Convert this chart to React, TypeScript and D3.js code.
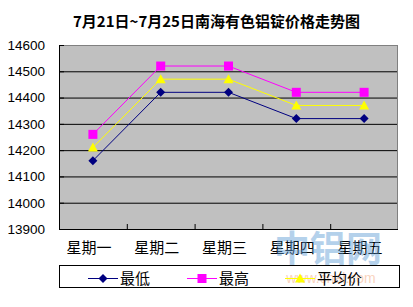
import React from "react";
import * as d3 from "d3";

const title = "7月21日~7月25日南海有色铝锭价格走势图";
const categories = ["星期一", "星期二", "星期三", "星期四", "星期五"];
const lowValues = [14160, 14420, 14420, 14320, 14320];
const highValues = [14260, 14520, 14520, 14420, 14420];
const avgValues = [14210, 14470, 14470, 14370, 14370];
const yTicks = [13900, 14000, 14100, 14200, 14300, 14400, 14500, 14600];
const seriesNames = ["最低", "最高", "平均价"];

const W = 413, H = 307;
const left = 59, right = 398, top = 45, bottom = 229;
const cjk = "'Noto Sans CJK SC', 'Noto Sans', sans-serif";
const num = "'Liberation Sans', Arial, sans-serif";

function Marker({ kind, x, y }: { kind: string; x: number; y: number }) {
  if (kind === "diamond") {
    const s = 4.5;
    return <path d={`M${x},${y - s}L${x + s},${y}L${x},${y + s}L${x - s},${y}Z`} fill="#000080" />;
  }
  if (kind === "square") {
    return <rect x={x - 4.5} y={y - 4.5} width={9} height={9} fill="#FF00FF" />;
  }
  return <path d={`M${x},${y - 5}L${x + 5},${y + 4}L${x - 5},${y + 4}Z`} fill="#FFFF00" />;
}

export default function App() {
  const x = d3.scaleBand<string>().domain(categories).range([left, right]);
  const y = d3.scaleLinear().domain([13900, 14600]).range([bottom, top]);
  const cx = (c: string) => (x(c) as number) + x.bandwidth() / 2;
  const line = d3
    .line<number>()
    .x((_, i) => cx(categories[i]))
    .y((v) => y(v));

  const series = [
    { name: seriesNames[0], values: lowValues, color: "#000080", kind: "diamond" },
    { name: seriesNames[1], values: highValues, color: "#FF00FF", kind: "square" },
    { name: seriesNames[2], values: avgValues, color: "#FFFF00", kind: "triangle" },
  ];
  const legendX = [88, 187, 285];

  return (
    <svg width={W} height={H} style={{ position: "absolute", left: 0, top: 0, background: "#fff" }}>
      <text x={216.5} y={26.5} textAnchor="middle" fontFamily={cjk} fontWeight="bold" fontSize={15}>
        {title}
      </text>
      <rect x={left} y={top} width={right - left} height={bottom - top} fill="#C0C0C0" />
      {yTicks.slice(1, -1).map((t) => (
        <line key={t} x1={left} x2={right} y1={y(t) + 0.5} y2={y(t) + 0.5} stroke="#000" />
      ))}
      <line x1={left} x2={right} y1={top + 0.5} y2={top + 0.5} stroke="#808080" />
      <line x1={right - 0.5} x2={right - 0.5} y1={top} y2={bottom} stroke="#808080" />
      <line x1={left + 0.5} x2={left + 0.5} y1={top} y2={bottom + 1} stroke="#000" />
      <line x1={left} x2={right} y1={bottom + 0.5} y2={bottom + 0.5} stroke="#000" />
      {yTicks.map((t) => (
        <line key={"yt" + t} x1={left} x2={left + 5} y1={y(t) + 0.5} y2={y(t) + 0.5} stroke="#000" />
      ))}
      {categories.slice(1).map((c) => (
        <line key={"xt" + c} x1={(x(c) as number) + 0.5} x2={(x(c) as number) + 0.5} y1={bottom} y2={bottom - 5} stroke="#000" />
      ))}
      {yTicks.map((t) => (
        <text key={"yl" + t} x={45} y={y(t)} dy="0.36em" textAnchor="end" fontFamily={num} fontSize={13.5}>
          {t}
        </text>
      ))}
      {categories.map((c) => (
        <text key={"xl" + c} x={cx(c) - 4} y={252.5} textAnchor="middle" fontFamily={cjk} fontSize={15}>
          {c}
        </text>
      ))}
      {series.map((s) => (
        <g key={s.name}>
          <path d={line(s.values) || ""} fill="none" stroke={s.color} strokeWidth={1} />
          {s.values.map((v, i) => (
            <Marker key={i} kind={s.kind} x={cx(categories[i])} y={y(v)} />
          ))}
        </g>
      ))}
      <g opacity={0.45}>
        <text x={328} y={262} textAnchor="middle" fontFamily={cjk} fontWeight="bold" fontSize={36} fill="#5B9BD5">
          中铝网
        </text>
        <text x={331} y={283} textAnchor="middle" fontFamily={num} fontSize={14} fill="#F4A070">
          www.cnal.com
        </text>
      </g>
      <rect x={59.5} y={265.5} width={340} height={22} fill="none" stroke="#000" />
      {series.map((s, i) => (
        <g key={"lg" + s.name}>
          <line x1={legendX[i]} x2={legendX[i] + 30} y1={278.5} y2={278.5} stroke={s.color} />
          <Marker kind={s.kind} x={legendX[i] + 15} y={278.5} />
          <text x={legendX[i] + 32} y={284} fontFamily={cjk} fontSize={15}>
            {s.name}
          </text>
        </g>
      ))}
    </svg>
  );
}
